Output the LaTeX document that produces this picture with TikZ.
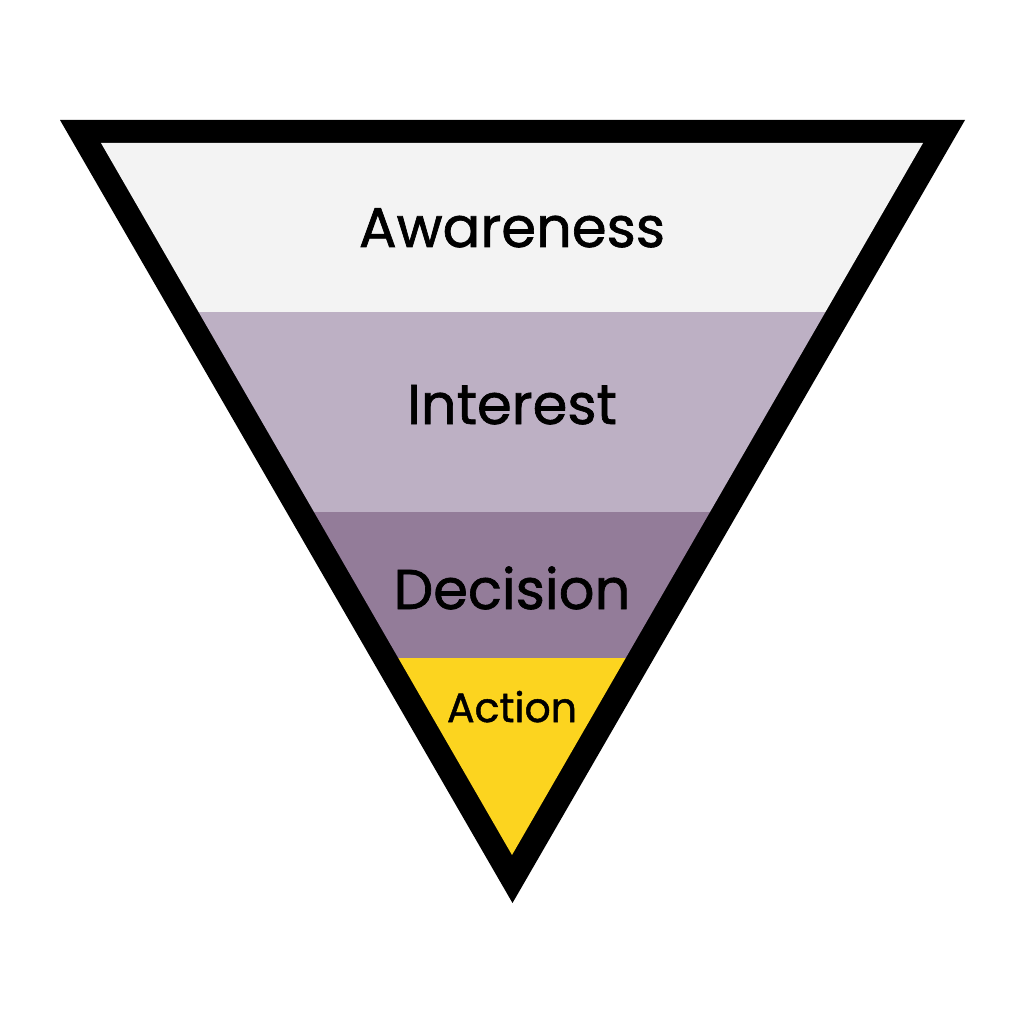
\documentclass[tikz,border=0pt]{standalone}
\usepackage{fontspec}
\setmainfont{Poppins}
\newfontfamily\medfont[FakeBold=1.2]{Poppins}
\definecolor{cawa}{HTML}{F3F3F3}
\definecolor{cint}{HTML}{BDB0C4}
\definecolor{cdec}{HTML}{937C99}
\definecolor{cact}{HTML}{FCD41F}
\tikzset{lbl/.style={inner sep=0pt, text=black}}
\begin{document}
\begin{tikzpicture}[x=1pt,y=-1pt]
\useasboundingbox (0,0) rectangle (1024,1024);
\fill[white] (0,0) rectangle (1024,1024);
\fill[black] (60,120) -- (965,120) -- (512.5,903) -- cycle;
\begin{scope}
\clip (101,143) -- (923,143) -- (512,855) -- cycle;
\fill[cawa] (0,140) rectangle (1024,312);
\fill[cint] (0,312) rectangle (1024,512);
\fill[cdec] (0,512) rectangle (1024,658);
\fill[cact] (0,658) rectangle (1024,860);
\end{scope}
\node[lbl, font=\medfont\fontsize{56}{60}\selectfont, anchor=base] (a) at (512,247) {Awareness};
\node[lbl, font=\medfont\fontsize{56}{60}\selectfont, anchor=base] (i) at (512,424) {Interest};
\node[lbl, font=\medfont\fontsize{56}{60}\selectfont, anchor=base] (d) at (512,609) {Decision};
\node[lbl, font=\medfont\fontsize{41}{44}\selectfont, anchor=base] (c) at (512,722) {Action};
\end{tikzpicture}
\end{document}
